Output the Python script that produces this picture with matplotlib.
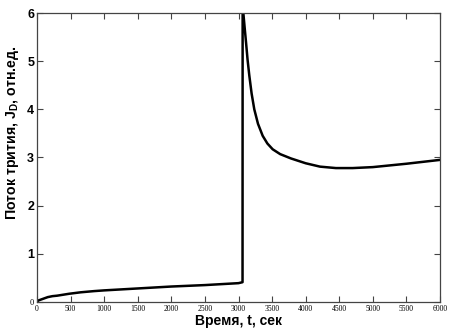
import matplotlib
matplotlib.use('Agg')
import matplotlib.pyplot as plt
import numpy as np

plt.rcParams['mathtext.fontset'] = 'custom'
plt.rcParams['mathtext.rm'] = 'Liberation Sans:bold'
plt.rcParams['mathtext.bf'] = 'Liberation Sans:bold'

# rise before the jump
t_rise = [0, 20, 60, 100, 160, 230, 300, 480, 650, 850, 1000, 1500, 2000, 2500, 3000, 3060]
j_rise = [0.0, 0.03, 0.05, 0.07, 0.10, 0.12, 0.13, 0.17, 0.20, 0.225, 0.24, 0.28, 0.32, 0.35, 0.39, 0.41]
# decay after the jump
t_fall = [3062, 3068, 3072, 3090, 3112, 3135, 3161, 3195, 3235, 3290, 3360, 3430, 3509,
          3620, 3781, 4000, 4213, 4450, 4700, 5000, 5500, 6000]
j_fall = [8.0, 6.5, 6.0, 5.72, 5.39, 5.03, 4.70, 4.33, 4.0, 3.7, 3.45, 3.29, 3.17,
          3.07, 2.98, 2.88, 2.81, 2.78, 2.78, 2.80, 2.87, 2.95]

xticks = list(range(0, 6001, 500))
yticks = [0, 1, 2, 3, 4, 5, 6]

t = t_rise + t_fall
j = j_rise + j_fall

fig = plt.figure(figsize=(4.53, 3.34), dpi=100)
ax = fig.add_axes([0.0817, 0.096, 0.8896, 0.865])
ax.plot(t, j, color='k', lw=1.8)
ax.set_xlim(0, 6000)
ax.set_ylim(0, 6)

ax.set_xticks(xticks)
ax.set_xticklabels([str(v) for v in xticks], family='Liberation Serif', fontsize=5.5)
ax.set_yticks(yticks)
ax.set_yticklabels([str(v) for v in yticks], family='Liberation Sans', fontsize=9, fontweight='bold')
lab0 = ax.get_yticklabels()[0]
lab0.set_family('Liberation Serif')
lab0.set_fontweight('normal')
lab0.set_fontsize(6)

ax.tick_params(direction='in', top=True, right=True, length=4, width=0.8, color='#444444', pad=2)
for s in ax.spines.values():
    s.set_color('#444444')
    s.set_linewidth(0.9)

ax.set_xlabel('Время, t, сек', family='Liberation Sans', fontsize=10, fontweight='bold', labelpad=1)
ax.set_ylabel('Поток трития, J$_\\mathrm{D}$, отн.ед.', family='Liberation Sans', fontsize=10.2,
              fontweight='bold')
ax.yaxis.set_label_coords(-0.04, 0.587)

fig.savefig('out.png', dpi=100)
